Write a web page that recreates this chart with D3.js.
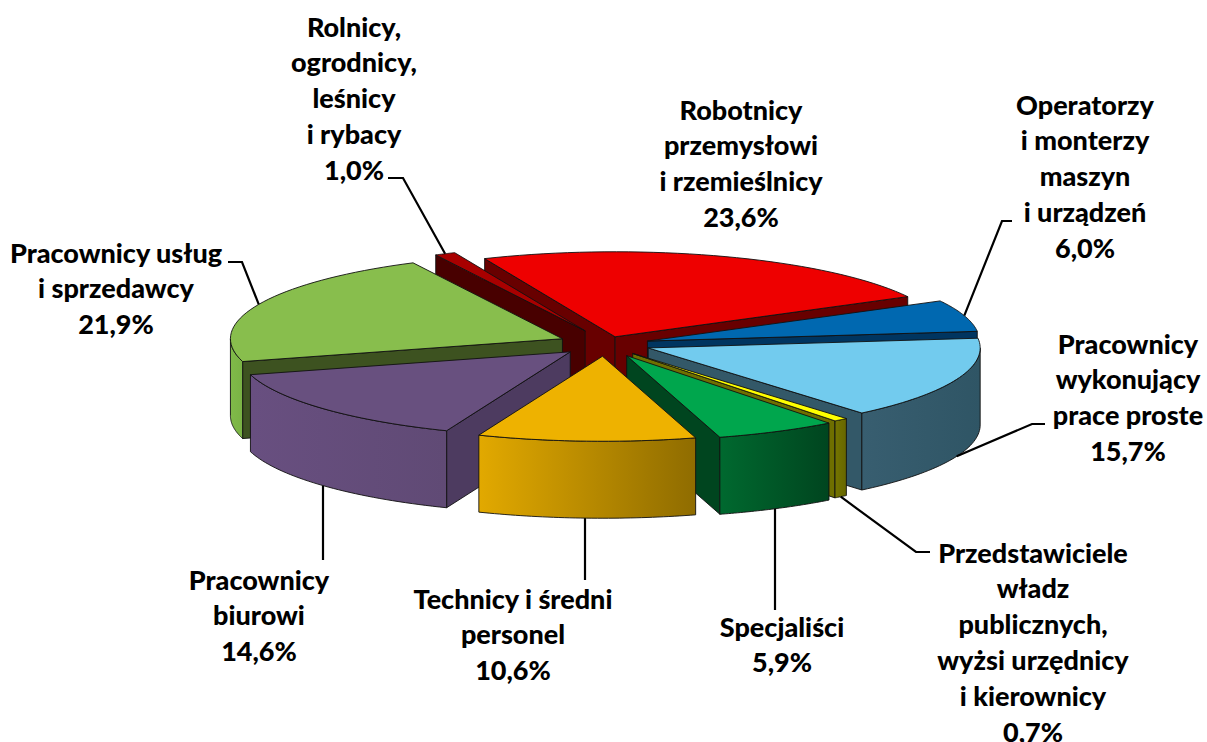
<!DOCTYPE html>
<html><head><meta charset="utf-8">
<script src="https://cdn.jsdelivr.net/npm/d3@7"></script>
<style>html,body{margin:0;padding:0;background:#fff}svg{display:block}text{font-family:Lato,sans-serif;font-weight:900;fill:#000}</style>
</head><body><svg id="c" width="1207" height="742"></svg>
<script>
// data
const categories=["Robotnicy przemysłowi i rzemieślnicy","Operatorzy i monterzy maszyn i urządzeń","Pracownicy wykonujący prace proste","Przedstawiciele władz publicznych, wyżsi urzędnicy i kierownicy","Specjaliści","Technicy i średni personel","Pracownicy biurowi","Pracownicy usług i sprzedawcy","Rolnicy, ogrodnicy, leśnicy i rybacy"];
const values=[23.6,6.0,15.7,0.7,5.9,10.6,14.6,21.9,1.0];
const labelLines=[["Robotnicy","przemysłowi","i rzemieślnicy"],["Operatorzy","i monterzy","maszyn","i urządzeń"],["Pracownicy","wykonujący","prace proste"],["Przedstawiciele","władz","publicznych,","wyżsi urzędnicy","i kierownicy"],["Specjaliści"],["Technicy i średni","personel"],["Pracownicy","biurowi"],["Pracownicy usług","i sprzedawcy"],["Rolnicy,","ogrodnicy,","leśnicy","i rybacy"]];
// style
const topColors=["#EE0000","#0068B0","#72CBEE","#FFFF00","#00A64D","#EEB200","#68507F","#88BE4D","#A80000"];
const faceColors=["#680000","#003560","#335868","#6F6F00","#00451F","#7A5C00","#4D3B60","#3D5220","#480000"];
const arcFrom=["#680000","#003560","#385E70","#757500","#00692F","#E2A900","#684F80","#80BA49","#480000"];
const arcTo=["#680000","#003560","#2F5565","#666600","#00451F","#8F6C00","#604A75","#7AB345","#480000"];
const explode=[32,45,47,45,49,42,46,46,46];
const nudgeY=[-1,-1,-2,-1,-1,0,-1.5,-2,-4];
// layout
const W=1207,H=742,cx=604.5,cy=345.5,rx=332,ry=85,depth=77,rot=-23.14;
const drawOrder=[0,8,1,2,7,3,4,6,5];
const labelPos=[[741,111],[1085,106],[1128,345],[1033,554],[782,628],[513,600],[259,581],[116,254],[354,28]];
const lineGap=35.8;
const leaderEnd=[null,[[1002,221],[1012,221]],[[1032,424],[1045,424]],[[916,552],[930,552]],[[775,610]],[[585,580]],[[323,560]],[[242,262],[228,262]],[[403,178],[388,178]]];

const svg=d3.select("#c"),defs=svg.append("defs");
const pie=d3.pie().sort(null).value(d=>d).startAngle(rot*Math.PI/180).endAngle((rot+360)*Math.PI/180);
const arcs=pie(values);
const sx=d3.scaleLinear().domain([0,1]).range([0,rx]),sy=d3.scaleLinear().domain([0,1]).range([0,ry]);
const xOf=t=>sx(Math.sin(t)),yOf=t=>-sy(Math.cos(t));
const lineGen=d3.line();

arcs.forEach((a,i)=>{
  const mid=(a.startAngle+a.endAngle)/2;
  a.mid=mid;
  a.ax=cx+explode[i]*Math.sin(mid);
  a.ay=cy-explode[i]*(ry/rx)*Math.cos(mid)+nudgeY[i];
});
const arcPts=(a,t0,t1,dy=0)=>d3.range(0,41).map(k=>{const t=t0+(t1-t0)*k/40;return [a.ax+xOf(t),a.ay+yOf(t)+dy]});

drawOrder.forEach(i=>{
  const a=arcs[i],g=svg.append("g");
  const A=[a.ax,a.ay],M=[a.ax+xOf(a.mid),a.ay+yOf(a.mid)];
  const put=(pts,fill)=>g.append("path").attr("d",lineGen(pts)+"Z").attr("fill",fill).attr("stroke","#111").attr("stroke-width",0.9).attr("stroke-linejoin","round");
  [a.startAngle,a.endAngle].forEach(t=>{
    const P=[a.ax+xOf(t),a.ay+yOf(t)];
    const e=[P[0]-A[0],P[1]-A[1]],m=[M[0]-A[0],M[1]-A[1]];
    const side=e[0]*m[1]-e[1]*m[0],down=e[0];
    if(side*down<0) put([A,P,[P[0],P[1]+depth],[A[0],A[1]+depth]],faceColors[i]);
  });
  // outer wall: the front half of the rim only
  const pi=Math.PI;
  const k=Math.ceil((a.startAngle-pi/2)/(2*pi));
  for(let n=k-1;n<=k+1;n++){
    const t0=Math.max(a.startAngle,pi/2+2*pi*n),t1=Math.min(a.endAngle,3*pi/2+2*pi*n);
    if(t1>t0){
      const id="w"+i;
      const top=arcPts(a,t0,t1),bot=arcPts(a,t0,t1,depth).reverse();
      const gr=defs.append("linearGradient").attr("id",id).attr("gradientUnits","userSpaceOnUse")
        .attr("x1",d3.min(top,d=>d[0])).attr("x2",d3.max(top,d=>d[0])).attr("y1",0).attr("y2",0);
      gr.append("stop").attr("offset",0).attr("stop-color",arcFrom[i]);
      gr.append("stop").attr("offset",1).attr("stop-color",arcTo[i]);
      put(top.concat(bot),`url(#${id})`);
    }
  }
  put([A].concat(arcPts(a,a.startAngle,a.endAngle)),topColors[i]);
});

// leaders
arcs.forEach((a,i)=>{
  if(!leaderEnd[i])return;
  const front=Math.cos(a.mid)<0;
  const ends=leaderEnd[i];
  const S=[ends.length===1?ends[0][0]:a.ax+xOf(a.mid),a.ay+yOf(a.mid)+(front?depth:0)];
  svg.append("path").attr("d",lineGen([S].concat(ends))).attr("fill","none").attr("stroke","#000").attr("stroke-width",2.2);
});
// labels
labelLines.forEach((lines,i)=>{
  const [x,y]=labelPos[i];
  const t=svg.append("text").attr("text-anchor","middle").attr("font-size",27);
  lines.concat([values[i].toFixed(1).replace(".",",")+"%"]).forEach((s,k)=>{
    t.append("tspan").attr("x",x).attr("y",y+8.5+k*lineGap).text(s);
  });
});
</script></body></html>
